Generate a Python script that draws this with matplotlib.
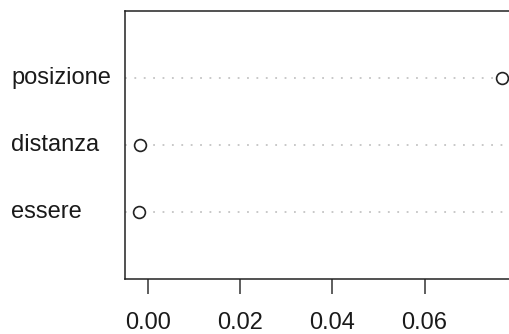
import matplotlib
matplotlib.use("Agg")
import matplotlib.pyplot as plt
from matplotlib.transforms import blended_transform_factory

labels = ["essere", "distanza", "posizione"]
values = [-0.0019, -0.0017, 0.0767]
xticks = [0.00, 0.02, 0.04, 0.06]
xticklabels = ["0.00", "0.02", "0.04", "0.06"]

plt.rcParams['font.family'] = ['Liberation Sans', 'DejaVu Sans']

W, H = 509, 334
fig = plt.figure(figsize=(W / 100, H / 100), dpi=100)
left_px, right_px, top_px, bottom_px = 125, 516, 11, 279
ax = fig.add_axes([left_px / W, 1 - bottom_px / H, (right_px - left_px) / W, (bottom_px - top_px) / H])

n = len(values)
ys = list(range(1, n + 1))
for y in ys:
    ax.axhline(y, color='#c4c4c4', linestyle=(0, (1, 4.2)), linewidth=1.3, zorder=1)
ax.plot(values, ys, linestyle='none', marker='o', markersize=8.5, markerfacecolor='white',
        markeredgecolor='#222222', markeredgewidth=1.2, zorder=3)

rng = max(values) - min(values)
ax.set_xlim(min(values) - 0.04 * rng, max(values) + 0.04 * rng)
ax.set_ylim(0, n + 1)

fs = 17
ax.set_xticks(xticks)
ax.set_xticklabels(xticklabels, fontsize=fs)
ax.tick_params(axis='x', length=11, width=1.1, pad=13, colors='#333333', labelcolor='#1a1a1a')
ax.set_yticks([])
for s in ax.spines.values():
    s.set_linewidth(1.1)
    s.set_color('#222222')

trans = blended_transform_factory(fig.transFigure, ax.transData)
for y, lab in zip(ys, labels):
    ax.text(11 / W, y, lab, transform=trans, ha='left', va='center', fontsize=fs, color='#1a1a1a')

fig.savefig("out.png", dpi=100)
